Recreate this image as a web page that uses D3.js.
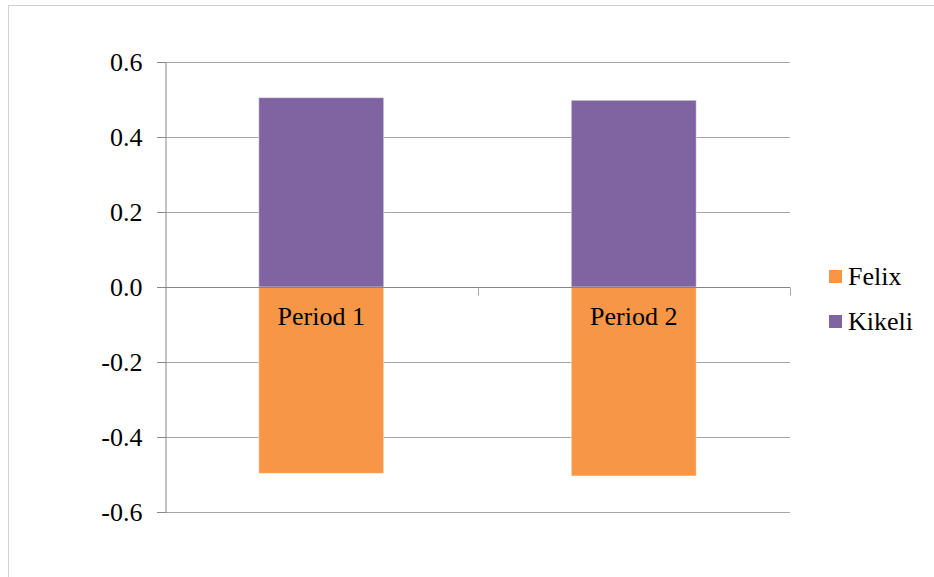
<!DOCTYPE html>
<html>
<head>
<meta charset="utf-8">
<script src="https://cdn.jsdelivr.net/npm/d3@7"></script>
<style>
  html, body { margin: 0; padding: 0; background: #fff; }
  svg { display: block; }
  svg text { font-family: "Times New Roman", "Liberation Serif", Tinos, "DejaVu Serif", serif !important; fill: #000; }
</style>
</head>
<body>
<svg id="chart" width="934" height="577"></svg>
<script>
// Chart data
const categories = ["Period 1", "Period 2"];
const seriesNames = ["Felix", "Kikeli"];
const felixValues = [-0.497, -0.504];
const kikeliValues = [0.505, 0.498];
const yTicks = [-0.6, -0.4, -0.2, 0.0, 0.2, 0.4, 0.6];
const seriesColors = ["#F79646", "#8064A2"];

const FONT = '"Times New Roman", "Liberation Serif", Tinos, "DejaVu Serif", serif';
const svg = d3.select("#chart");
const W = 934, H = 577;

// outer frame
svg.append("rect")
  .attr("x", 8.5).attr("y", 5.5)
  .attr("width", W + 10).attr("height", H + 10)
  .attr("fill", "none").attr("stroke", "#d0d0d0").attr("stroke-width", 1);

const plot = { left: 165, right: 790, top: 62, bottom: 512 };

const x = d3.scaleBand().domain(categories)
  .range([plot.left, plot.right]).paddingInner(0.6).paddingOuter(0.3);
const y = d3.scaleLinear().domain([-0.6, 0.6]).range([plot.bottom, plot.top]);

// gridlines
svg.append("g").selectAll("line").data(yTicks.filter(d => d !== 0)).join("line")
  .attr("x1", plot.left - 8).attr("x2", plot.right)
  .attr("y1", d => Math.round(y(d)) + 0.5).attr("y2", d => Math.round(y(d)) + 0.5)
  .attr("stroke", "#a6a6a6").attr("stroke-width", 1);

// y axis
const yAxis = d3.axisLeft(y).tickValues(yTicks).tickFormat(d3.format(".1f")).tickSize(8).tickPadding(15);
const gy = svg.append("g").attr("transform", `translate(${plot.left + 0.5},0)`).call(yAxis);
gy.attr("font-family", FONT).attr("font-size", 26);
gy.select(".domain").attr("stroke", "#868686");
gy.selectAll(".tick line").attr("stroke", "#868686");
gy.selectAll(".tick").attr("transform", d => `translate(0,${Math.round(y(d)) + 0.5})`);
gy.selectAll(".tick text")
  .attr("font-family", FONT).attr("font-size", 26)
  .attr("fill", "#000").attr("dy", "0.33em")
  .text(d => d3.format(".1f")(d).replace("−", "-"));

// stacked bars
const stackRows = categories.map((c, i) => ({ cat: c, Felix: felixValues[i], Kikeli: kikeliValues[i] }));
const stacked = d3.stack().keys(seriesNames).offset(d3.stackOffsetDiverging)(stackRows);

const color = d3.scaleOrdinal().domain(seriesNames).range(seriesColors);

svg.append("g").selectAll("g").data(stacked).join("g")
  .attr("fill", d => color(d.key))
  .selectAll("rect").data(d => d).join("rect")
  .attr("x", d => x(d.data.cat))
  .attr("width", x.bandwidth())
  .attr("y", d => y(Math.max(d[0], d[1])))
  .attr("height", d => Math.abs(y(d[0]) - y(d[1])))
  .attr("stroke", "rgba(255,255,255,0.5)").attr("stroke-width", 1);

// zero line with category ticks
const y0 = Math.round(y(0)) + 0.5;
svg.append("line")
  .attr("x1", plot.left - 8).attr("x2", plot.right)
  .attr("y1", y0).attr("y2", y0)
  .attr("stroke", "#868686");
const catEdges = [plot.left + (plot.right - plot.left) / 2, plot.right];
svg.append("g").selectAll("line").data(catEdges).join("line")
  .attr("x1", d => Math.round(d) + 0.5).attr("x2", d => Math.round(d) + 0.5)
  .attr("y1", y0).attr("y2", y0 + 8)
  .attr("stroke", "#a6a6a6");

// category labels just below zero line
svg.append("g").selectAll("text").data(categories).join("text")
  .attr("x", d => x(d) + x.bandwidth() / 2)
  .attr("y", 325)
  .attr("text-anchor", "middle")
  .attr("font-family", FONT).attr("font-size", 26)
  .text(d => d);

// legend
const legend = svg.append("g").attr("transform", "translate(829,270)");
const li = legend.selectAll("g").data(seriesNames).join("g")
  .attr("transform", (d, i) => `translate(0,${i * 45})`);
li.append("rect").attr("width", 13).attr("height", 13).attr("fill", d => color(d));
li.append("text").attr("x", 19).attr("y", 14.5)
  .attr("font-family", FONT).attr("font-size", 26).text(d => d);
</script>
</body>
</html>
